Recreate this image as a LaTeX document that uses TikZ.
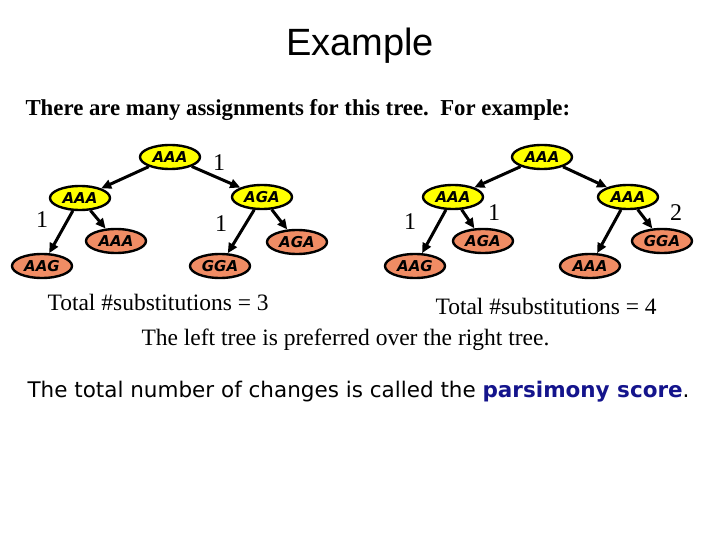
\documentclass[tikz,border=0pt]{standalone}
\usepackage{fontspec}
\setmainfont{Liberation Serif}
\newfontfamily\arialf{Liberation Sans}
\newfontfamily\comicf{DejaVu Sans}
\usetikzlibrary{shapes.geometric,arrows.meta}
\definecolor{ylw}{RGB}{255,255,0}
\definecolor{salmon}{RGB}{240,140,100}
\definecolor{navy}{RGB}{20,20,140}
\tikzset{x=1pt,y=-1pt,
 inner/.style={ellipse,draw,line width=2.4pt,fill=ylw,minimum width=60pt,minimum height=24pt,inner sep=0pt,font=\comicf\itshape\bfseries\fontsize{15}{15}\selectfont},
 leaf/.style={inner,fill=salmon},
 edge/.style={-{Triangle[length=10pt,width=9pt]},line width=3pt},
 num/.style={font=\fontsize{24}{24}\selectfont}}
\begin{document}
\begin{tikzpicture}
\useasboundingbox (0,0) rectangle (720,540);
\node[font=\arialf\fontsize{38}{38}\selectfont] (title) at (360,46) {Example};
\node[anchor=west,font=\bfseries\fontsize{22.8}{23}\selectfont] (intro) at (22,110) {There are many assignments for this tree.\ \ For example:};
% left tree
\node[inner] (l0) at (170,157) {AAA};
\node[inner] (l1) at (80,198) {AAA};
\node[inner] (l2) at (262,197) {AGA};
\node[leaf] (l3) at (42,266) {AAG};
\node[leaf] (l4) at (116,241) {AAA};
\node[leaf] (l5) at (220,266) {GGA};
\node[leaf] (l6) at (297,242) {AGA};
\draw[edge] (l0) -- (l1);
\draw[edge] (l0) -- (l2);
\draw[edge] (l1) -- (l3);
\draw[edge] (l1) -- (l4);
\draw[edge] (l2) -- (l5);
\draw[edge] (l2) -- (l6);
\node[num] (a1) at (219,163) {1};
\node[num] (a2) at (42,220) {1};
\node[num] (a3) at (221,224) {1};
% right tree
\node[inner] (r0) at (542,157) {AAA};
\node[inner] (r1) at (453,197) {AAA};
\node[inner] (r2) at (628,197) {AAA};
\node[leaf] (r3) at (415,266) {AAG};
\node[leaf] (r4) at (483,241) {AGA};
\node[leaf] (r5) at (590,266) {AAA};
\node[leaf] (r6) at (662,241) {GGA};
\draw[edge] (r0) -- (r1);
\draw[edge] (r0) -- (r2);
\draw[edge] (r1) -- (r3);
\draw[edge] (r1) -- (r4);
\draw[edge] (r2) -- (r5);
\draw[edge] (r2) -- (r6);
\node[num] (b1) at (410,222) {1};
\node[num] (b2) at (494,213) {1};
\node[num] (b3) at (676,213) {2};
\node[anchor=west,font=\fontsize{23.5}{24}\selectfont] (t1) at (44,302) {Total \#substitutions = 3};
\node[anchor=west,font=\fontsize{23.5}{24}\selectfont] (t2) at (432,306) {Total \#substitutions = 4};
\node[anchor=west,font=\fontsize{23.5}{24}\selectfont] (pref) at (138,340) {The left tree is preferred over the right tree.};
\node[anchor=west,font=\comicf\fontsize{21.5}{22}\selectfont] (tot) at (24,392) {The total number of changes is called the \textcolor{navy}{\bfseries parsimony score}.};
\end{tikzpicture}
\end{document}
